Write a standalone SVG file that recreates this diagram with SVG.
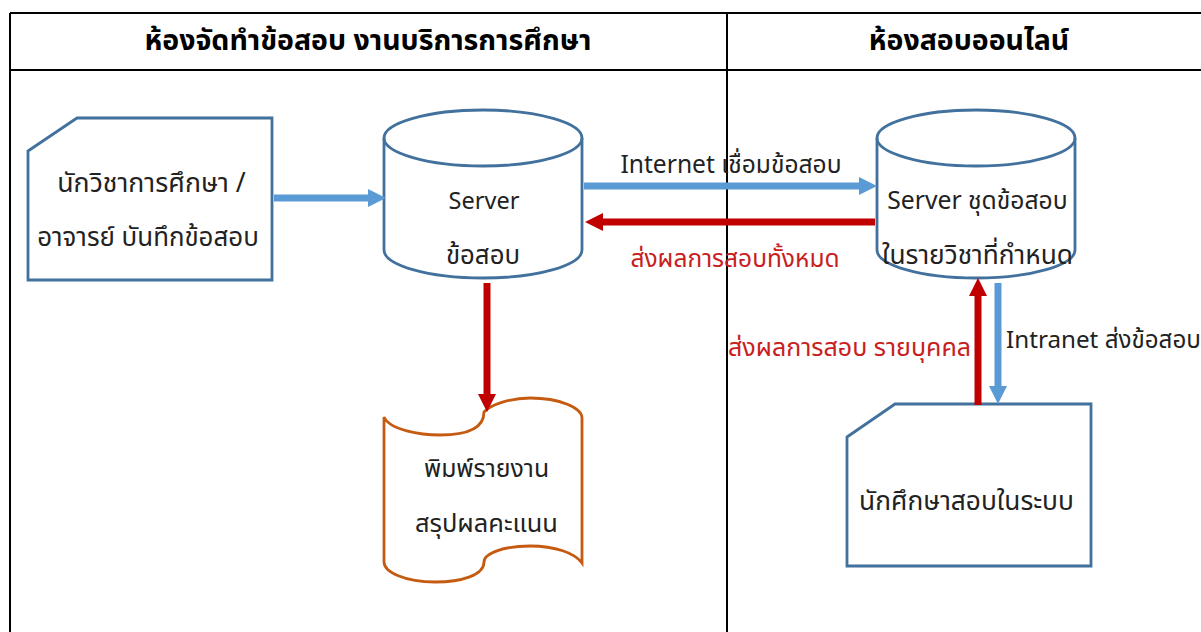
<svg xmlns="http://www.w3.org/2000/svg" width="1201" height="632" viewBox="0 0 1201 632">
<style>
text{font-family:"Noto Sans","Noto Sans Thai","Liberation Sans",sans-serif;font-size:24px;fill:#222;text-anchor:middle}
.h{font-size:28.5px;font-weight:bold;fill:#000}
.r{fill:#c82020}
.s{fill:#fff;stroke:#41719c;stroke-width:2.8}
.f{fill:none;stroke:#41719c;stroke-width:2.8}
.o{fill:#fff;stroke:#c55a11;stroke-width:2.8}
.g{fill:none;stroke:#000;stroke-width:2}
.b{stroke:#5b9bd5;stroke-width:7;fill:none}
.c{stroke:#c00000;stroke-width:7;fill:none}
</style>
<defs>
<marker id="mb" markerUnits="userSpaceOnUse" markerWidth="18" markerHeight="18" refX="8" refY="9" orient="auto"><path d="M0 0L18 9L0 18Z" fill="#5b9bd5"/></marker>
<marker id="mr" markerUnits="userSpaceOnUse" markerWidth="18" markerHeight="18" refX="8" refY="9" orient="auto"><path d="M0 0L18 9L0 18Z" fill="#c00000"/></marker>
</defs>
<rect width="1201" height="632" fill="#fff"/>
<g id="table">
<path class="g" d="M10 13H1201M10 70H1201M10 13V632M727 13V632"/>
<text class="h" x="368" y="50">ห้องจัดทำข้อสอบ งานบริการการศึกษา</text>
<text class="h" x="969" y="50">ห้องสอบออนไลน์</text>
</g>
<g id="n1"><path class="s" d="M28 151L77 118H272V280H28Z"/>
<text x="151.500" y="192" style="font-size:26.700px">นักวิชาการศึกษา /</text><text x="148" y="246" style="font-size:25.900px">อาจารย์ บันทึกข้อสอบ</text></g>
<g id="n2"><path class="s" d="M384 138V250C384 265 428 278 483 278S582 265 582 250V138C582 123 538 110 483 110S384 123 384 138Z"/>
<path class="f" d="M384 138C384 153 428 166 483 166S582 153 582 138"/>
<text x="484" y="209" style="font-size:23.500px">Server</text><text x="483" y="264" style="font-size:25.800px">ข้อสอบ</text></g>
<g id="n3"><path class="s" d="M877 138V250C877 265 921 278 976 278S1075 265 1075 250V138C1075 123 1031 110 976 110S877 123 877 138Z"/>
<path class="f" d="M877 138C877 153 921 166 976 166S1075 153 1075 138"/>
<text x="977.500" y="209" style="font-size:24.700px">Server ชุดข้อสอบ</text><text x="977.500" y="264" style="font-size:26.300px">ในรายวิชาที่กำหนด</text></g>
<g id="n4"><path class="o" d="M384 417C390 430 420 435 440 435C465 435 484 430 484 412C490 405 510 398 530 398C560 398 582 408 582 418V563C575 553 555 546 530 546C505 546 484 553 484 562C484 575 462 582 435 582C405 582 384 572 384 562Z"/>
<text x="486.500" y="477" style="font-size:24.800px">พิมพ์รายงาน</text><text x="486.500" y="532" style="font-size:25.400px">สรุปผลคะแนน</text></g>
<g id="n5"><path class="s" d="M847 437L895 404H1091V566H847Z"/>
<text x="966.500" y="510" style="font-size:26.300px">นักศึกษาสอบในระบบ</text></g>
<g id="connectors">
<path class="b" marker-end="url(#mb)" d="M274 198H376"/>
<path class="b" marker-end="url(#mb)" d="M584 186H867"/>
<path class="c" marker-end="url(#mr)" d="M875 222H595"/>
<path class="c" marker-end="url(#mr)" d="M487 283V402"/>
<path class="c" marker-end="url(#mr)" d="M978 405V288"/>
<path class="b" marker-end="url(#mb)" d="M998 283V394"/>
</g>
<g id="labels">
<text x="731" y="173" style="font-size:24.600px">Internet เชื่อมข้อสอบ</text>
<text class="r" x="735" y="267" style="font-size:24.500px">ส่งผลการสอบทั้งหมด</text>
<text class="r" x="849.500" y="356" style="font-size:25px">ส่งผลการสอบ รายบุคคล</text>
<text x="1103.500" y="348" style="font-size:24.200px">Intranet ส่งข้อสอบ</text>
</g>
</svg>
